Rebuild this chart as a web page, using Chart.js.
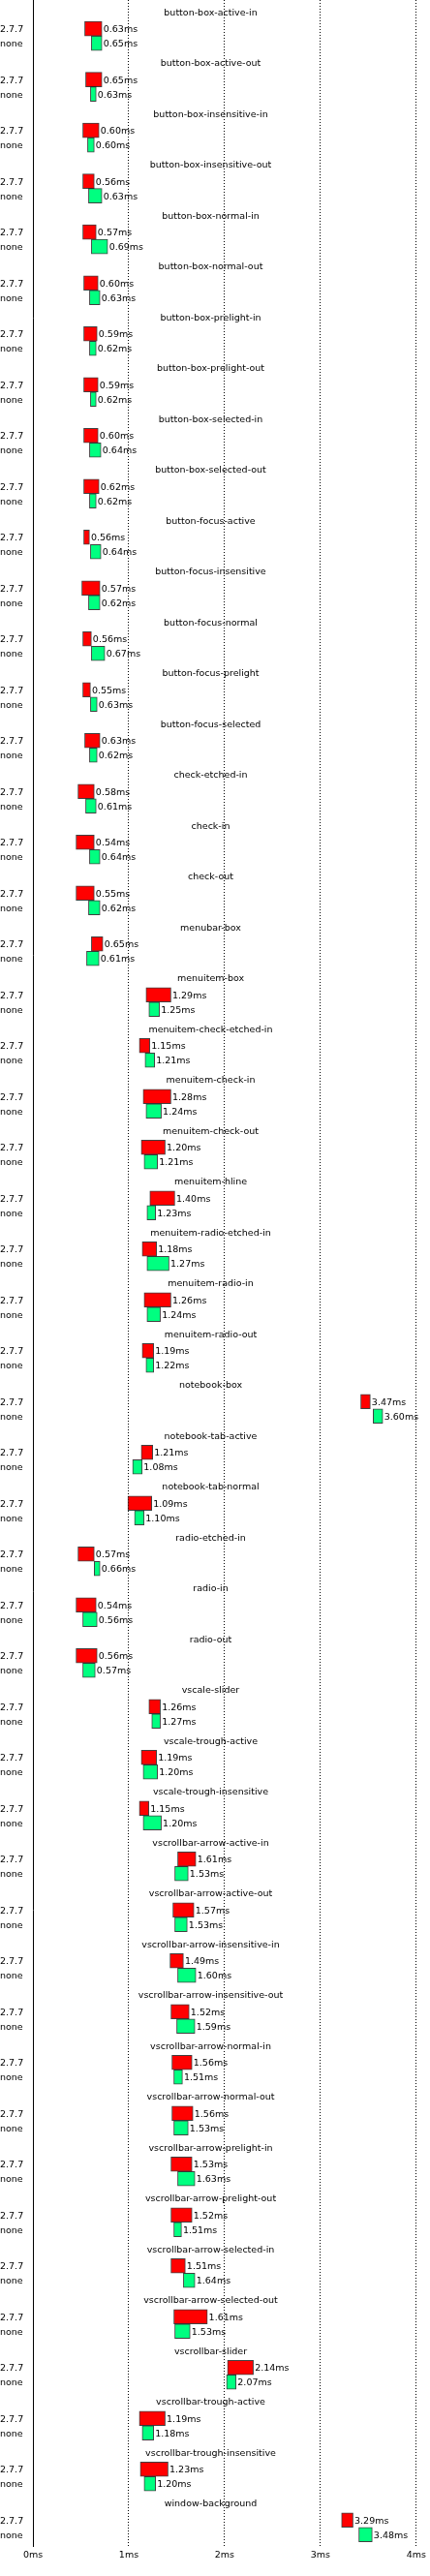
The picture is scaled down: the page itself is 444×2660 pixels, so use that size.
<!DOCTYPE html>
<html>
<head>
<meta charset="utf-8">
<script src="https://cdn.jsdelivr.net/npm/chart.js@4"></script>
<style>
    html, body { margin: 0; padding: 0; background: #fff; }
    #wrap { width: 444px; height: 2660px; position: relative; }
</style>
</head>
<body>
<div id="wrap"><canvas id="timings"></canvas></div>
<script>
const groups = [
    'button-box-active-in', 'button-box-active-out', 'button-box-insensitive-in', 'button-box-insensitive-out',
    'button-box-normal-in', 'button-box-normal-out', 'button-box-prelight-in', 'button-box-prelight-out',
    'button-box-selected-in', 'button-box-selected-out', 'button-focus-active', 'button-focus-insensitive',
    'button-focus-normal', 'button-focus-prelight', 'button-focus-selected', 'check-etched-in', 'check-in',
    'check-out', 'menubar-box', 'menuitem-box', 'menuitem-check-etched-in', 'menuitem-check-in',
    'menuitem-check-out', 'menuitem-hline', 'menuitem-radio-etched-in', 'menuitem-radio-in',
    'menuitem-radio-out', 'notebook-box', 'notebook-tab-active', 'notebook-tab-normal', 'radio-etched-in',
    'radio-in', 'radio-out', 'vscale-slider', 'vscale-trough-active', 'vscale-trough-insensitive',
    'vscrollbar-arrow-active-in', 'vscrollbar-arrow-active-out', 'vscrollbar-arrow-insensitive-in',
    'vscrollbar-arrow-insensitive-out', 'vscrollbar-arrow-normal-in', 'vscrollbar-arrow-normal-out',
    'vscrollbar-arrow-prelight-in', 'vscrollbar-arrow-prelight-out', 'vscrollbar-arrow-selected-in',
    'vscrollbar-arrow-selected-out', 'vscrollbar-slider', 'vscrollbar-trough-active',
    'vscrollbar-trough-insensitive', 'window-background'
];

// reported time per theme engine (ms)
const value277 = [0.63, 0.65, 0.60, 0.56, 0.57, 0.60, 0.59, 0.59, 0.60, 0.62, 0.56, 0.57, 0.56, 0.55, 0.63, 0.58, 0.54,
    0.55, 0.65, 1.29, 1.15, 1.28, 1.20, 1.40, 1.18, 1.26, 1.19, 3.47, 1.21, 1.09, 0.57, 0.54, 0.56, 1.26, 1.19, 1.15,
    1.61, 1.57, 1.49, 1.52, 1.56, 1.56, 1.53, 1.52, 1.51, 1.61, 2.14, 1.19, 1.23, 3.29];
const valueNone = [0.65, 0.63, 0.60, 0.63, 0.69, 0.63, 0.62, 0.62, 0.64, 0.62, 0.64, 0.62, 0.67, 0.63, 0.62, 0.61, 0.64,
    0.62, 0.61, 1.25, 1.21, 1.24, 1.21, 1.23, 1.27, 1.24, 1.22, 3.60, 1.08, 1.10, 0.66, 0.56, 0.57, 1.27, 1.20, 1.20,
    1.53, 1.53, 1.60, 1.59, 1.51, 1.53, 1.63, 1.51, 1.64, 1.53, 2.07, 1.18, 1.20, 3.48];

// box extents (ms)
const low277 = [0.54, 0.55, 0.52, 0.52, 0.52, 0.53, 0.53, 0.53, 0.53, 0.53, 0.53, 0.51, 0.52, 0.52, 0.54, 0.47, 0.45,
    0.45, 0.61, 1.18, 1.11, 1.15, 1.13, 1.22, 1.14, 1.16, 1.14, 3.42, 1.13, 0.99, 0.47, 0.45, 0.45, 1.21, 1.13, 1.11,
    1.51, 1.46, 1.43, 1.44, 1.45, 1.45, 1.44, 1.44, 1.44, 1.47, 2.03, 1.11, 1.12, 3.22];
const high277 = [0.72, 0.72, 0.69, 0.64, 0.66, 0.68, 0.67, 0.68, 0.68, 0.69, 0.59, 0.70, 0.61, 0.60, 0.70, 0.64, 0.64,
    0.64, 0.73, 1.44, 1.22, 1.44, 1.38, 1.48, 1.29, 1.44, 1.26, 3.52, 1.25, 1.24, 0.64, 0.66, 0.67, 1.33, 1.29, 1.21,
    1.70, 1.68, 1.57, 1.63, 1.66, 1.67, 1.66, 1.66, 1.59, 1.82, 2.30, 1.38, 1.41, 3.34];
const lowNone = [0.61, 0.60, 0.57, 0.58, 0.61, 0.59, 0.59, 0.60, 0.59, 0.59, 0.60, 0.58, 0.61, 0.60, 0.59, 0.55, 0.59,
    0.58, 0.56, 1.21, 1.17, 1.18, 1.16, 1.19, 1.19, 1.19, 1.18, 3.55, 1.04, 1.06, 0.64, 0.52, 0.52, 1.24, 1.15, 1.15,
    1.48, 1.48, 1.51, 1.50, 1.47, 1.47, 1.51, 1.47, 1.57, 1.48, 2.02, 1.14, 1.16, 3.40];
const highNone = [0.72, 0.66, 0.64, 0.72, 0.78, 0.70, 0.66, 0.66, 0.71, 0.66, 0.71, 0.70, 0.75, 0.67, 0.67, 0.66, 0.70,
    0.70, 0.69, 1.32, 1.27, 1.34, 1.30, 1.28, 1.42, 1.33, 1.26, 3.65, 1.14, 1.16, 0.70, 0.67, 0.65, 1.33, 1.30, 1.34,
    1.62, 1.61, 1.70, 1.69, 1.56, 1.62, 1.69, 1.55, 1.69, 1.64, 2.12, 1.26, 1.28, 3.54];

const xTicks = [0, 1, 2, 3, 4];

const FONT = '9.5px "DejaVu Sans"';

const toBoxes = (lo, hi) => lo.map((l, i) => ({ x: [l, hi[i]], y: i }));

// titles, row names and value labels
const textPlugin = {
    id: 'textLabels',
    afterDatasetsDraw(chart) {
        const { ctx, scales: { y } } = chart;
        ctx.save();
        ctx.font = FONT;
        ctx.fillStyle = '#000';
        ctx.textBaseline = 'middle';
        ctx.textAlign = 'center';
        groups.forEach((name, i) => {
            ctx.fillText(name, 217.5, y.getPixelForValue(i) - 24);
        });
        ctx.textAlign = 'left';
        chart.data.datasets.forEach((ds, di) => {
            chart.getDatasetMeta(di).data.forEach((bar, i) => {
                const right = Math.max(bar.x, bar.base);
                ctx.fillText(ds.values[i].toFixed(2) + 'ms', right + 1.5, bar.y + 1);
                ctx.fillText(ds.label, 0, bar.y + 1);
            });
        });
        ctx.restore();
    }
};

new Chart(document.getElementById('timings'), {
    type: 'bar',
    data: {
        datasets: [
            {
                label: '2.7.7',
                data: toBoxes(low277, high277),
                values: value277,
                backgroundColor: '#ff0000',
                borderColor: 'rgba(0, 0, 0, 0.75)',
                borderWidth: 1,
                borderSkipped: false
            },
            {
                label: 'none',
                data: toBoxes(lowNone, highNone),
                values: valueNone,
                backgroundColor: '#00ff80',
                borderColor: 'rgba(0, 0, 0, 0.75)',
                borderWidth: 1,
                borderSkipped: false
            }
        ]
    },
    options: {
        indexAxis: 'y',
        responsive: true,
        maintainAspectRatio: false,
        animation: false,
        barThickness: 15,
        layout: { padding: 0 },
        scales: {
            x: {
                type: 'linear',
                min: 0,
                max: 4,
                afterBuildTicks: (scale) => { scale.ticks = xTicks.map((v) => ({ value: v })); },
                afterFit: (scale) => { scale.height = 31; },
                ticks: {
                    font: { family: 'DejaVu Sans', size: 9.5 },
                    color: '#000',
                    padding: 4,
                    maxRotation: 0,
                    callback: (v) => v + 'ms'
                },
                grid: { color: '#000', lineWidth: 1, drawTicks: false },
                border: { display: false, dash: [1, 2] }
            },
            y: {
                type: 'linear',
                reverse: true,
                offset: false,
                bounds: 'data',
                grace: 0,
                min: -0.7086,
                max: 49.367,
                afterFit: (scale) => { scale.width = 34; },
                ticks: { display: false },
                grid: { display: false, offset: false },
                border: { display: true, color: '#000', width: 1 }
            }
        },
        plugins: {
            legend: { display: false },
            tooltip: { enabled: false }
        }
    },
    plugins: [textPlugin]
});
</script>
</body>
</html>
